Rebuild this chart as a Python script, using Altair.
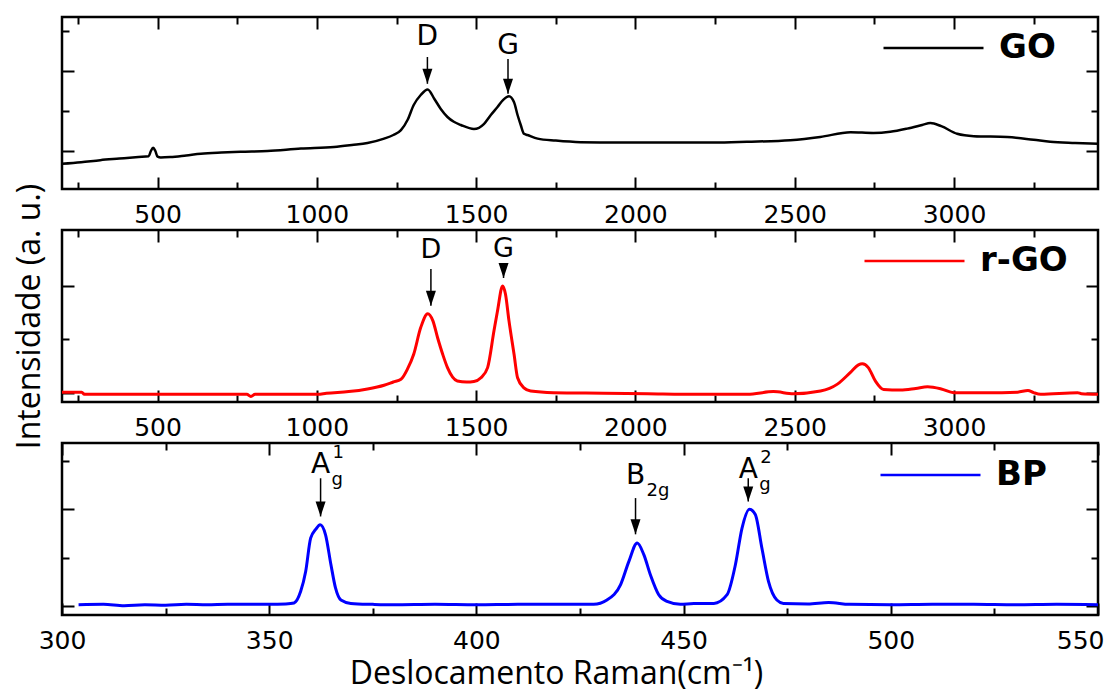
import altair as alt
import pandas as pd

# ---------------- data ----------------
go_x = [200, 260, 320, 380, 440, 472, 479, 486, 493, 500, 510, 540, 590, 636, 700,
        760, 845, 950, 1054, 1110, 1159, 1211, 1240, 1264, 1285, 1304, 1326, 1348, 1369, 1389,
        1410, 1430, 1452, 1493, 1525, 1546, 1567, 1585, 1603, 1619, 1630, 1640, 1650, 1661, 1693,
        1750, 1828, 1950, 2100, 2246, 2350, 2486, 2580, 2675, 2747, 2800, 2853, 2900, 2926, 2960,
        3010, 3062, 3167, 3250, 3302, 3380, 3452]
go_y = [-0.32, -0.28, -0.23, -0.19, -0.15, -0.13, 0.0, 0.08, 0.0, -0.14, -0.16, -0.15, -0.11, -0.07, -0.04,
        -0.02, 0.0, 0.06, 0.10, 0.15, 0.20, 0.31, 0.40, 0.52, 0.78, 1.15, 1.40, 1.54, 1.30, 1.05,
        0.85, 0.73, 0.65, 0.55, 0.68, 0.90, 1.10, 1.28, 1.37, 1.22, 0.90, 0.65, 0.43, 0.40, 0.31,
        0.26, 0.22, 0.21, 0.21, 0.21, 0.23, 0.27, 0.35, 0.47, 0.45, 0.48, 0.56, 0.65, 0.70, 0.62,
        0.43, 0.37, 0.35, 0.28, 0.23, 0.20, 0.18]

rgo_x = [200, 262, 270, 400, 600, 780, 793, 806, 1003, 1030, 1100, 1159, 1211, 1240, 1264,
         1285, 1304, 1326, 1348, 1364, 1379, 1395, 1410, 1441, 1470, 1493, 1515, 1536, 1556, 1567,
         1583, 1592, 1603, 1619, 1630, 1650, 1671, 1743, 1900, 2038, 2200, 2352, 2433, 2496, 2581,
         2634, 2675, 2700, 2712, 2731, 2753, 2779, 2832, 2880, 2917, 2960, 3000, 3100, 3200, 3232,
         3250, 3272, 3388, 3400, 3452]
rgo_y = [0.01, 0.01, -0.03, -0.03, -0.03, -0.03, -0.07, -0.03, -0.03, -0.01, 0.02, 0.07, 0.14, 0.20, 0.25,
         0.45, 0.72, 1.22, 1.48, 1.35, 1.03, 0.72, 0.47, 0.22, 0.20, 0.21, 0.28, 0.47, 1.16, 1.53,
         2.00, 1.85, 1.35, 0.72, 0.28, 0.09, 0.03, 0.0, -0.01, -0.02, -0.03, -0.03, 0.02, -0.02, 0.03,
         0.16, 0.38, 0.52, 0.54, 0.47, 0.22, 0.06, 0.05, 0.08, 0.11, 0.07, 0.0, 0.0, 0.01, 0.04,
         0.0, -0.03, 0.0, -0.02, -0.03]

bp_x = [304, 310, 315, 320, 325, 330, 335, 340, 345, 350, 354, 356, 357.6, 358.8, 360.0,
        361.2, 362.3, 363.6, 364.9, 366.0, 367.3, 369.7, 375, 380, 390, 400, 410, 420, 428.3, 431.5,
        434.8, 436.8, 438.8, 440.4, 442.0, 444.0, 446.0, 449.2, 452.5, 457.3, 460.5, 462.5, 464.1, 465.9, 467.3,
        468.9, 470.5, 472.5, 474.1, 480, 485, 490, 500, 510, 520, 530, 540, 550]
bp_y = [0.02, 0.03, 0.00, 0.02, 0.01, 0.03, 0.02, 0.03, 0.03, 0.03, 0.04, 0.06, 0.30, 0.71, 1.40,
        1.58, 1.68, 1.47, 0.85, 0.37, 0.12, 0.05, 0.03, 0.02, 0.03, 0.02, 0.03, 0.03, 0.03, 0.12,
        0.44, 0.92, 1.30, 1.06, 0.64, 0.23, 0.09, 0.03, 0.05, 0.05, 0.23, 0.85, 1.61, 2.00, 1.89,
        1.19, 0.50, 0.12, 0.05, 0.04, 0.07, 0.03, 0.02, 0.03, 0.03, 0.02, 0.03, 0.02]

# axis ticks
wide_major = [500, 1000, 1500, 2000, 2500, 3000]
wide_minor = [250, 750, 1250, 1750, 2250, 2750, 3250]
bp_major = [300, 350, 400, 450, 500, 550]
bp_minor = [325, 375, 425, 475, 525]

# peak annotations
go_ann_x = [1347, 1600]
go_ann_main = ["D", "G"]
go_ann_sub = ["", ""]
go_ann_sup = ["", ""]
go_ann_lab = [2.65, 2.43]
go_ann_top = [2.35, 2.30]
go_ann_tip = [1.68, 1.43]

rgo_ann_x = [1358, 1586]
rgo_ann_main = ["D", "G"]
rgo_ann_sub = ["", ""]
rgo_ann_sup = ["", ""]
rgo_ann_lab = [2.53, 2.55]
rgo_ann_top = [2.32, 2.41]
rgo_ann_tip = [1.63, 2.15]

bp_ann_x = [362.4, 438.4, 465.6]
bp_ann_main = ["A", "B", "A"]
bp_ann_sub = ["g", "2g", "g"]
bp_ann_sup = ["1", "", "2"]
bp_ann_lab = [2.75, 2.52, 2.65]
bp_ann_top = [2.64, 2.23, 2.64]
bp_ann_tip = [1.85, 1.48, 2.16]

# ---------------- chart ----------------
W = 1036
H = 172
FONT = "DejaVu Sans"
TFONT = "Open Sans"


def panel(name, xs, ys, color, sw, xdom, ydom, xmaj, xmin, ymaj, ymin,
          ann, ann_size, leg_x, leg_y, ytitle=False, xtitle=False):
    df = pd.DataFrame({"x": xs, "y": ys, "s": [name] * len(xs)})
    base = alt.Chart(df)
    xsc = alt.Scale(domain=xdom, nice=False, zero=False)
    ysc = alt.Scale(domain=ydom, nice=False, zero=False)
    last = xdom[1]

    xlab_kw = dict(orient="bottom", values=xmaj, ticks=False, domain=False, grid=False,
                   labels=True, labelPadding=13, labelFont=FONT, labelFontSize=25,
                   labelColor="black", format="d", labelFlush=False, labelOverlap=False,
                   labelAlign={"condition": {"test": f"datum.value >= {last}", "value": "right"},
                               "value": "center"},
                   labelOffset={"condition": {"test": f"datum.value >= {last}", "value": 6},
                                "value": 0})
    if xtitle:
        xlab_kw.update(title="Deslocamento Raman(cm\u207b\u00b9)", titleFont=TFONT,
                       titleFontSize=32, titleFontWeight="normal", titleColor="black",
                       titlePadding=5, titleX=494, titleAlign="center")
    else:
        xlab_kw.update(title=None)
    if ytitle:
        yax = alt.Axis(orient="left", ticks=False, labels=False, domain=False, grid=False,
                       title="Intensidade (a. u.)", titleFont=TFONT, titleFontSize=32,
                       titleFontWeight="normal", titleColor="black", titlePadding=16)
    else:
        yax = None

    line = base.mark_line(strokeWidth=sw, interpolate="monotone").encode(
        x=alt.X("x:Q", scale=xsc, axis=alt.Axis(**xlab_kw)),
        y=alt.Y("y:Q", scale=ysc, axis=yax),
        color=alt.Color("s:N", scale=alt.Scale(range=[color]),
                        legend=alt.Legend(title=None, orient="none", legendX=leg_x, legendY=leg_y,
                                          symbolType="M-1,0L7,0", symbolSize=625,
                                          symbolStrokeWidth=2.5, labelFont=FONT,
                                          labelFontSize=34, labelFontWeight="bold",
                                          labelColor="black", labelOffset=86, padding=0)),
    )

    def ticks(xo, yo, xv, yv, size):
        common = dict(labels=False, domain=False, grid=False, title=None,
                      tickSize=size, tickWidth=2, tickColor="black")
        return base.mark_line(strokeOpacity=0).encode(
            x=alt.X("x:Q", axis=alt.Axis(orient=xo, offset=-H, values=xv, **common)),
            y=alt.Y("y:Q", axis=alt.Axis(orient=yo, offset=-W, values=yv, **common)),
        )

    t1 = ticks("top", "right", xmaj, ymaj, 12)
    t2 = ticks("top", "right", xmin, ymin, 7)
    t3 = ticks("bottom", "left", xmaj, ymaj, 12)
    t4 = ticks("bottom", "left", xmin, ymin, 7)

    ax, amain, asub, asup, alab, atop, atip = ann
    adf = pd.DataFrame({"x": ax, "main": amain, "sub": asub, "sup": asup,
                        "lab": alab, "top": atop, "tip": atip})
    a = alt.Chart(adf)
    X = alt.X("x:Q", axis=None)
    main_t = a.mark_text(font=FONT, fontSize=ann_size, align="center", baseline="alphabetic",
                         color="black").encode(x=X, y=alt.Y("lab:Q", axis=None), text="main:N")
    sub_t = a.mark_text(font=FONT, fontSize=18, align="left", baseline="alphabetic",
                        dx=11, dy=12, color="black").encode(x=X, y=alt.Y("lab:Q", axis=None), text="sub:N")
    sup_t = a.mark_text(font=FONT, fontSize=18, align="left", baseline="alphabetic",
                        dx=12, dy=-15, color="black").encode(x=X, y=alt.Y("lab:Q", axis=None), text="sup:N")
    shaft = a.mark_rule(strokeWidth=1.5, color="black").encode(
        x=X, y=alt.Y("top:Q", axis=None), y2="tip:Q")
    head = a.mark_point(shape="M-1,-3L1,-3L0,0Z", size=100, filled=True, color="black",
                        opacity=1).encode(x=X, y=alt.Y("tip:Q", axis=None))

    return alt.layer(line, t1, t2, t3, t4, shaft, head, main_t, sub_t, sup_t).resolve_axis(
        x="independent", y="independent").properties(width=W, height=H)


p1 = panel("GO", go_x, go_y, "black", 2.5, [200, 3452], [-0.95, 3.35],
           wide_major, wide_minor, [0, 2], [1, 3],
           (go_ann_x, go_ann_main, go_ann_sub, go_ann_sup, go_ann_lab, go_ann_top, go_ann_tip),
           28, 817, 14)
p2 = panel("r-GO", rgo_x, rgo_y, "#ff0000", 3, [200, 3452], [-0.175, 3.05],
           wide_major, wide_minor, [0, 2], [1],
           (rgo_ann_x, rgo_ann_main, rgo_ann_sub, rgo_ann_sup, rgo_ann_lab, rgo_ann_top, rgo_ann_tip),
           27, 798, 14, ytitle=True)
p3 = panel("BP", bp_x, bp_y, "#0000ff", 3, [300, 550], [-0.19, 3.37],
           bp_major, bp_minor, [0, 2], [1, 3],
           (bp_ann_x, bp_ann_main, bp_ann_sub, bp_ann_sup, bp_ann_lab, bp_ann_top, bp_ann_tip),
           28, 814, 15, xtitle=True)

chart = alt.vconcat(p1, p2, p3, spacing=41, bounds="flush").resolve_scale(
    x="independent", y="independent", color="independent"
).properties(
    padding={"left": 3, "top": 6, "right": 0, "bottom": 0},
    background="white",
).configure_view(
    stroke="black", strokeWidth=2.5
).configure_axis(
    grid=False, tickColor="black", tickWidth=2
)

chart.save("out.html", embed_options={"renderer": "svg", "actions": False})
